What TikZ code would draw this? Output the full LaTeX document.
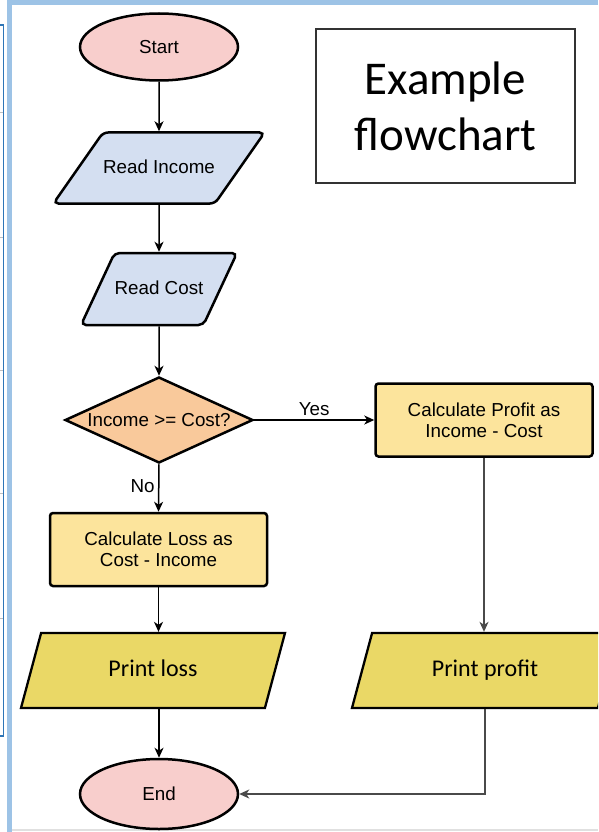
\documentclass[tikz,border=0pt]{standalone}
\usepackage{fontspec}
\setmainfont{Liberation Sans}
\newfontfamily\calibrifont{Carlito}
\usetikzlibrary{calc,positioning,shapes.geometric,arrows.meta}

\definecolor{termpink}{HTML}{F8CECC}
\definecolor{readblue}{HTML}{D4DFF1}
\definecolor{decorange}{HTML}{F9C99B}
\definecolor{calcyellow}{HTML}{FCE49C}
\definecolor{printyellow}{HTML}{EAD866}
\definecolor{framelight}{HTML}{9DC3E6}
\definecolor{framedark}{HTML}{2E75B6}
\definecolor{linegrey}{HTML}{4A4A4A}

\tikzset{
  txt/.style={font=\fontsize{18.8}{21}\selectfont},
  term/.style={ellipse, draw, line width=2.5pt, fill=termpink, txt,
    minimum width=158, minimum height=67, inner sep=0},
  readbox/.style={trapezium, trapezium stretches body=true, draw, line width=2.5pt,
    fill=readblue, rounded corners=5pt, txt, inner xsep=0,
    text height=13.5pt, text depth=3.5pt},
  decbox/.style={diamond, aspect=2.2, draw, line width=2.5pt, fill=decorange,
    txt, inner sep=0, minimum width=188, minimum height=86},
  calcbox/.style={rectangle, rounded corners=3pt, draw, line width=2.5pt,
    fill=calcyellow, txt, align=center, minimum width=217, minimum height=73},
  printbox/.style={trapezium, trapezium stretches body=true, draw, line width=2.3pt,
    fill=printyellow, inner xsep=0, inner ysep=26.5pt, text height=17pt, text depth=5pt,
    trapezium left angle=75, trapezium right angle=105,
    font=\calibrifont\fontsize{24}{28}\selectfont},
  arr/.style={-{Stealth[length=10pt,width=9pt,inset=3pt]}, line width=1.5pt},
  greyarr/.style={arr, draw=linegrey, -{Stealth[length=10pt,width=9pt,inset=3pt,fill=linegrey]}}
}

\begin{document}
\begin{tikzpicture}[x=1pt,y=-1pt]
  \useasboundingbox (0,0) rectangle (598,832);
  \clip (0,0) rectangle (598,832);
  \fill[white] (0,0) rectangle (598,832);

  % frame round the page
  \draw[framelight, line width=5pt] (9.5,0) -- (9.5,832);
  \draw[framelight, line width=5pt] (7,2.5) -- (598,2.5);
  \draw[black!12, line width=2pt] (12,830) -- (598,830);
  \draw[framedark, line width=1.8pt] (0,25) -- (3.5,25) -- (3.5,736) -- (0,736);
  \foreach \y in {113,237,370,493,618}{
  	\draw[black!25, line width=1pt] (0,\y) -- (2.5,\y);
	}

  \node[term] (start) at (159,47) {Start};
  \node[readbox, trapezium left angle=55, trapezium right angle=125,
    inner ysep=27pt, minimum width=198] (readin) at (159,168) {Read Income};
  \node[readbox, trapezium left angle=65, trapezium right angle=115,
    inner ysep=27.5pt, minimum width=153] (readcost) at (159,289) {Read Cost};
  \node[decbox] (decide) at (159,420) {Income >= Cost?};
  \node[calcbox] (calcprofit) at (484,420) {Calculate Profit as\\Income - Cost};
  \node[calcbox] (calcloss) at (158.5,549.5) {Calculate Loss as\\Cost - Income};
  \node[printbox, minimum width=264] (printloss) at (153,670.5) {Print loss};
  \node[printbox, minimum width=266] (printprofit) at (485,670.5) {Print profit};
  \node[term, minimum height=70] (end) at (159,794) {End};

  \node[draw=black!80, line width=1.2pt, minimum width=259, minimum height=154,
    align=center, font=\calibrifont\fontsize{47}{56}\selectfont] (title) at (445.5,106) {Example\\flowchart};

  \draw[arr] (start.south) -- (readin.north);
  \draw[arr] (readin.south) -- (readcost.north);
  \draw[arr] (readcost.south) -- (decide.north);
  \draw[arr] (decide.east) -- (calcprofit.west) node[midway, above, txt] (yes) {Yes};
  \draw[arr] (decide.south) -- (calcloss.north) node[pos=0.45, left, txt] (no) {No};
  \draw[arr] (calcloss.south) -- (calcloss.south |- printloss.north);
  \draw[arr] (end |- printloss.south) -- (end.north);
  \draw[greyarr] (calcprofit.south) -- (calcprofit.south |- printprofit.north);
  \draw[greyarr] (printprofit.south) |- (end.east);
\end{tikzpicture}
\end{document}
